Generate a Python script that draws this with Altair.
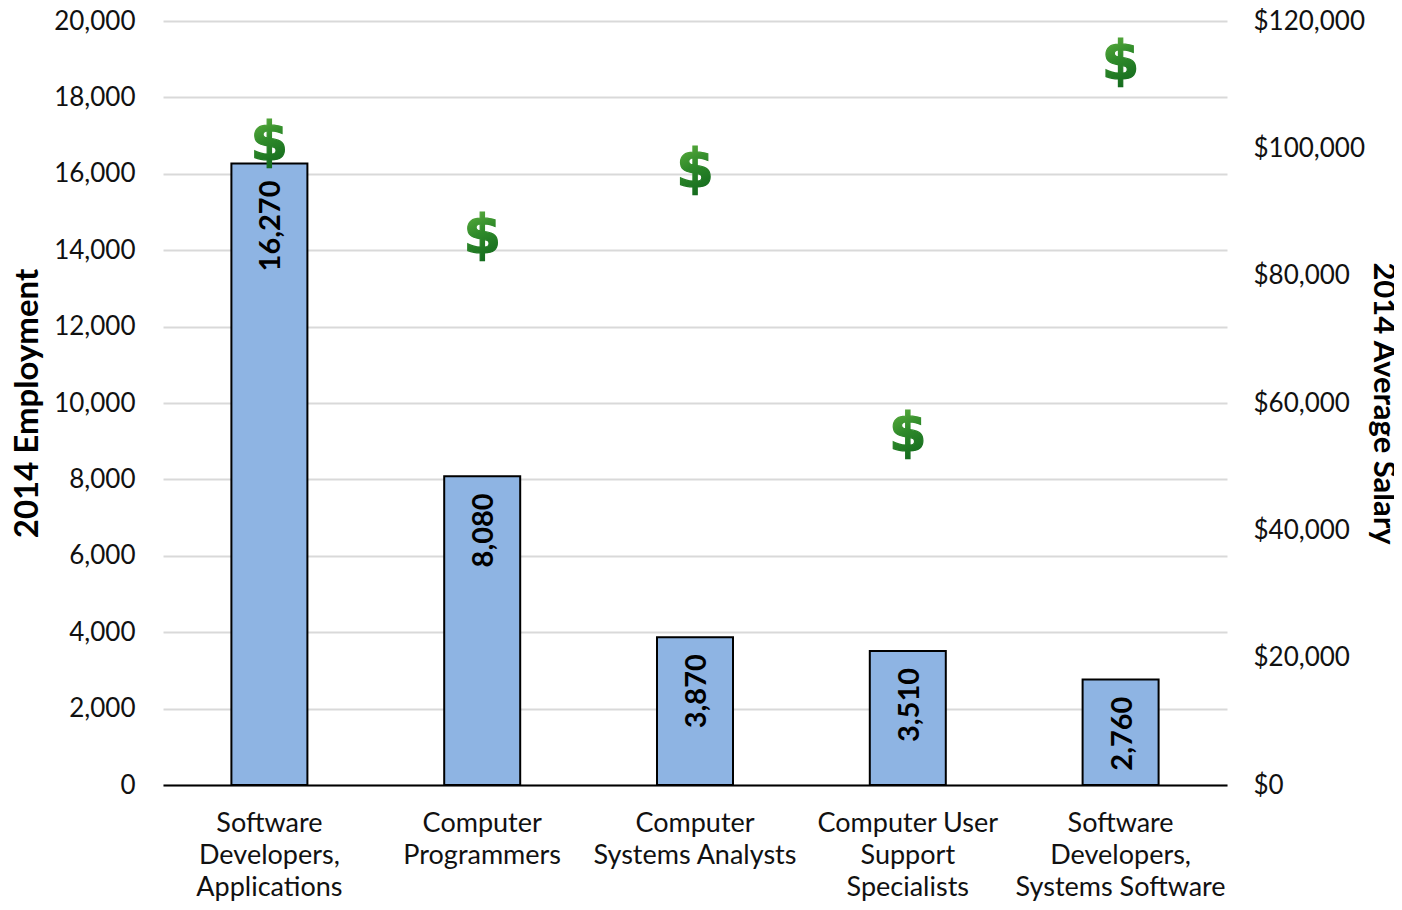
import altair as alt
import pandas as pd

categories = ["Software|Developers,|Applications", "Computer|Programmers", "Computer|Systems Analysts",
              "Computer User|Support|Specialists", "Software|Developers,|Systems Software"]
employment = [16270, 8080, 3870, 3510, 2760]
salary = [100700, 86000, 96500, 54900, 113400]
emp_ticks = list(range(0, 20001, 2000))
sal_ticks = list(range(0, 120001, 20000))

df = pd.DataFrame({"cat": categories, "emp": employment, "sal": salary})
FONT = "Lato"
x = alt.X("cat:N", sort=None, scale=alt.Scale(paddingInner=0, paddingOuter=0), axis=alt.Axis(
    title=None, labelAngle=0, labelExpr="split(datum.label, '|')", labelFont=FONT, labelFontSize=27,
    labelColor="#111111", labelPadding=25, labelLineHeight=32, ticks=False, domain=True, domainColor="#000000",
    domainWidth=2, labelLimit=260, labelBaseline="top"))

bars = alt.Chart(df).mark_bar(size=76, color="#8EB4E3", stroke="#000000", strokeWidth=2).encode(
    x=x,
    y=alt.Y("emp:Q", scale=alt.Scale(domain=[0, 20000], nice=False), axis=alt.Axis(
        title="2014 Employment", titleFont=FONT, titleFontSize=33, titleFontWeight="bold", titleColor="#000000",
        titleX=-119, values=emp_ticks, format=",d", labelFont=FONT, labelFontSize=26, labelColor="#111111",
        labelPadding=28, ticks=False, domain=False, grid=True, gridColor="#D9D9D9", gridWidth=2)))

labels = alt.Chart(df).mark_text(angle=270, align="right", baseline="middle", dx=-17, dy=2, font=FONT,
                                 fontSize=29, fontWeight="bold", color="#000000").encode(
    x=x, y=alt.Y("emp:Q", scale=alt.Scale(domain=[0, 20000], nice=False)), text=alt.Text("emp:Q", format=",d"))

grad = alt.LinearGradient(gradient="linear", x1=0, y1=0, x2=0.3, y2=1,
                          stops=[alt.GradientStop(offset=0, color="#6DBB45"),
                                 alt.GradientStop(offset=0.55, color="#2F8A2A"),
                                 alt.GradientStop(offset=1, color="#146B1E")])
dollars = alt.Chart(df).transform_calculate(sym="'$'").mark_text(
    font="DejaVu Sans", fontSize=54, fontWeight="bold", baseline="middle", align="center", fill=grad,
    stroke=grad, strokeWidth=1.2).encode(
    x=x,
    y=alt.Y("sal:Q", scale=alt.Scale(domain=[0, 120000], nice=False), axis=alt.Axis(
        orient="right", title="2014 Average Salary", titleFont=FONT, titleFontSize=31, titleFontWeight="bold",
        titleColor="#000000", titleAngle=90, titleX=139, values=sal_ticks, format="$,d", labelFont=FONT,
        labelFontSize=26, labelColor="#111111", labelPadding=26, ticks=False, domain=False, grid=False)),
    text="sym:N")

chart = alt.layer(alt.layer(bars, labels), dollars).resolve_scale(y="independent").properties(
    width=1064, height=764, autosize=alt.AutoSizeParams(type="none"),
    padding={"left": 155, "top": 13, "right": 167, "bottom": 117}
).configure_view(stroke=None)
chart.save("out.html", embed_options={"renderer": "svg", "actions": False})
